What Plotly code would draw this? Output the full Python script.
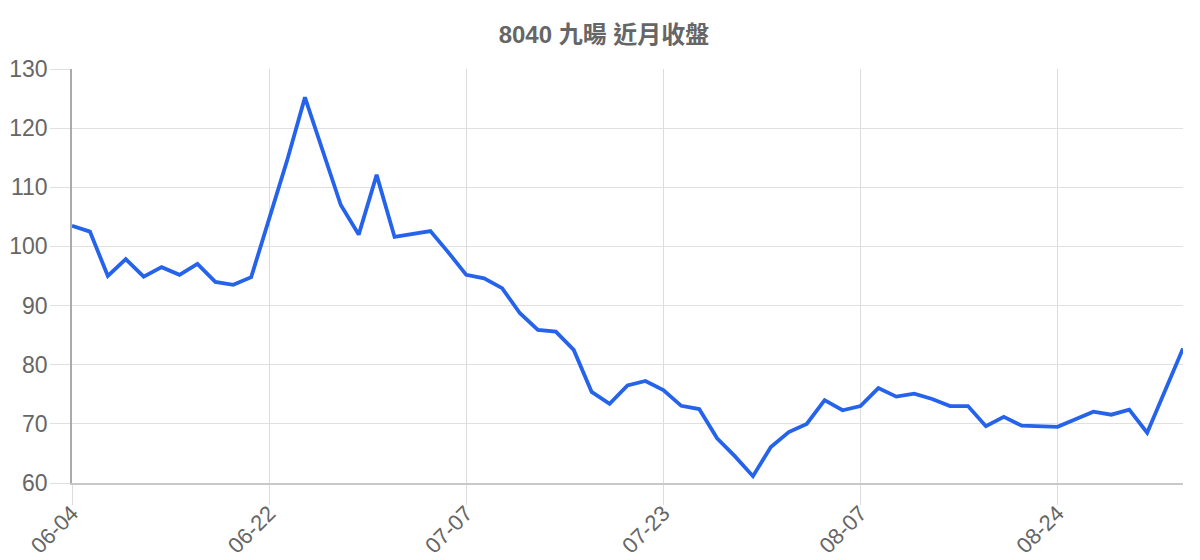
import plotly.graph_objects as go

# 交易日 (MM-DD)
dates = [
    "06-04", "06-07", "06-08", "06-09", "06-10", "06-11", "06-15", "06-16",
    "06-17", "06-18", "06-21", "06-22", "06-23", "06-24", "06-25", "06-28",
    "06-29", "06-30", "07-01", "07-02", "07-05", "07-06", "07-07", "07-08",
    "07-09", "07-12", "07-13", "07-14", "07-15", "07-16", "07-19", "07-20",
    "07-22", "07-23", "07-26", "07-27", "07-28", "07-29", "07-30", "08-02",
    "08-03", "08-04", "08-05", "08-06", "08-07", "08-09", "08-10", "08-11",
    "08-12", "08-13", "08-16", "08-17", "08-18", "08-19", "08-20", "08-24",
    "08-25", "08-26", "08-27", "08-30", "08-31", "09-01", "09-02",
]

# 收盤價
close = [
    103.5, 102.5, 95.0, 97.85, 94.9, 96.5, 95.2, 97.05, 94.0, 93.5,
    94.8, 104.5, 114.5, 125.2, 116.3, 107.0, 102.0, 112.1, 101.6, 102.1,
    102.6, 99.0, 95.2, 94.6, 92.95, 88.7, 85.9, 85.6, 82.5, 75.4,
    73.4, 76.5, 77.25, 75.7, 73.05, 72.5, 67.55, 64.5, 61.15, 66.1,
    68.6, 70.0, 74.0, 72.3, 73.0, 76.05, 74.6, 75.1, 74.2, 73.0,
    73.0, 69.6, 71.2, 69.7, 69.6, 69.5, 70.8, 72.05, 71.55, 72.4,
    68.5, 75.8, 82.75,
]

tick_labels = ["06-04", "06-22", "07-07", "07-23", "08-07", "08-24"]

font_family = "Liberation Sans, Noto Sans CJK TC, sans-serif"

fig = go.Figure(go.Scatter(
    x=dates,
    y=close,
    mode="lines",
    line=dict(color="#2563eb", width=3.8),
    hovertemplate="%{x}: %{y}<extra></extra>",
))

# page body has an 8px margin, so the figure is a bit smaller than the window
fig.update_layout(
    width=1192, height=552,
    margin=dict(l=64, r=17, t=61, b=77),
    paper_bgcolor="white", plot_bgcolor="white",
    font=dict(family=font_family, color="#666"),
    showlegend=False,
    title=dict(text="<b>8040 九暘 近月收盤</b>", x=0.5, xanchor="center",
               y=1 - 27 / 552, yref="container", yanchor="middle",
               font=dict(size=24, color="#666")),
)

fig.update_xaxes(
    type="category",
    range=[0, len(dates) - 1],
    tickmode="array", tickvals=tick_labels, ticktext=tick_labels,
    tickangle=-45,
    tickfont=dict(size=22, color="#666"),
    showgrid=True, gridcolor="#dcdcdc", gridwidth=1,
    ticks="outside", ticklen=20, tickcolor="#dcdcdc",
    showline=True, linecolor="#c8c8c8", linewidth=1.5,
    zeroline=False, automargin=False,
    ticklabelstandoff=-13,
)

fig.update_yaxes(
    range=[60, 130], dtick=10,
    tickfont=dict(size=23, color="#666"),
    showgrid=True, gridcolor="#e0e0e0", gridwidth=1,
    ticks="outside", ticklen=20, tickcolor="#e0e0e0",
    showline=True, linecolor="#aaa", linewidth=1.5,
    zeroline=False, automargin=False,
    ticklabelstandoff=-2,
)

fig.write_html("out.html")
